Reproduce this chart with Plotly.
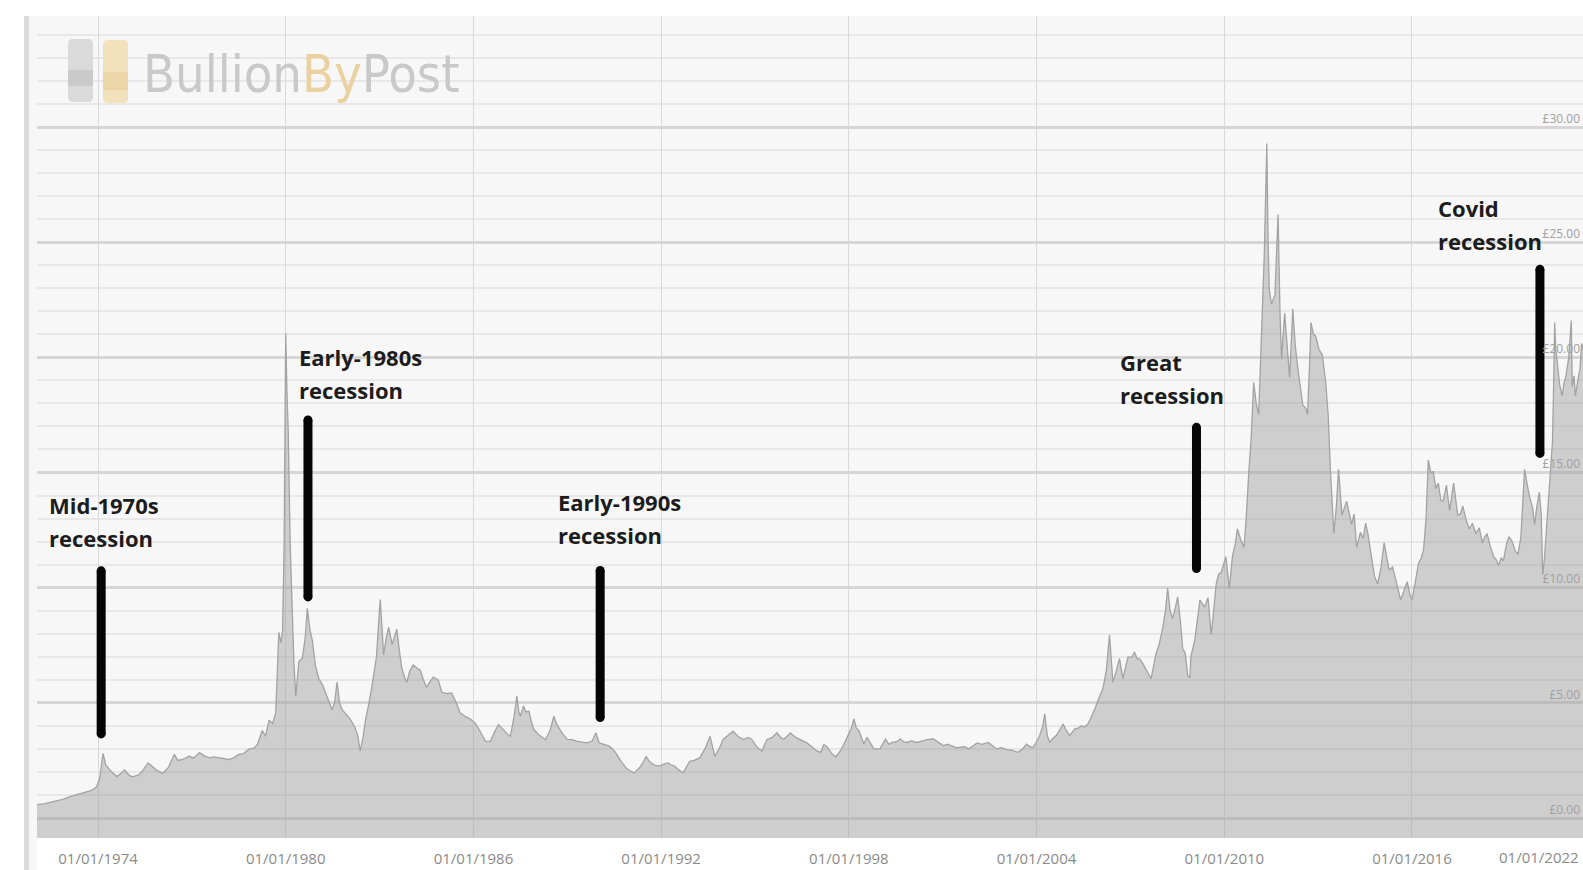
import datetime as dt
import plotly.graph_objects as go

# Silver price per troy ounce in GBP, sampled at fractional years
years = [
    1972.04, 1972.3, 1972.6, 1972.9, 1973.15, 1973.4, 1973.6, 1973.8, 1973.95, 1974.05,
    1974.16, 1974.25, 1974.4, 1974.6, 1974.75, 1974.85, 1975.0, 1975.1, 1975.3, 1975.45,
    1975.6, 1975.75, 1975.86, 1976.07, 1976.25, 1976.44, 1976.55, 1976.7, 1976.92, 1977.05,
    1977.24, 1977.4, 1977.56, 1977.7, 1977.87, 1978.0, 1978.19, 1978.35, 1978.5, 1978.65,
    1978.83, 1979.0, 1979.1, 1979.25, 1979.35, 1979.47, 1979.58, 1979.68, 1979.73, 1979.78,
    1979.85, 1979.9, 1979.95, 1980.0, 1980.04, 1980.08, 1980.14, 1980.2, 1980.26, 1980.32,
    1980.38, 1980.42, 1980.53, 1980.62, 1980.69, 1980.77, 1980.85, 1980.95, 1981.06, 1981.17,
    1981.27, 1981.38, 1981.48, 1981.56, 1981.64, 1981.72, 1981.8, 1981.9, 1982.0, 1982.1,
    1982.2, 1982.3, 1982.38, 1982.47, 1982.55, 1982.66, 1982.76, 1982.9, 1983.02, 1983.08,
    1983.13, 1983.21, 1983.29, 1983.4, 1983.48, 1983.55, 1983.63, 1983.71, 1983.8, 1983.87,
    1983.97, 1984.08, 1984.2, 1984.3, 1984.4, 1984.5, 1984.6, 1984.72, 1984.87, 1984.99,
    1985.15, 1985.3, 1985.45, 1985.57, 1985.75, 1985.9, 1986.05, 1986.2, 1986.38, 1986.54,
    1986.68, 1986.8, 1986.95, 1987.08, 1987.18, 1987.3, 1987.39, 1987.45, 1987.5, 1987.6,
    1987.68, 1987.77, 1987.85, 1987.93, 1988.1, 1988.3, 1988.45, 1988.57, 1988.65, 1988.73,
    1988.85, 1989.0, 1989.15, 1989.32, 1989.5, 1989.64, 1989.8, 1989.91, 1990.02, 1990.18,
    1990.34, 1990.45, 1990.55, 1990.7, 1990.88, 1991.0, 1991.14, 1991.3, 1991.42, 1991.52,
    1991.6, 1991.68, 1991.8, 1991.95, 1992.1, 1992.22, 1992.32, 1992.43, 1992.55, 1992.7,
    1992.8, 1992.91, 1993.05, 1993.23, 1993.4, 1993.56, 1993.64, 1993.72, 1993.85, 1993.98,
    1994.15, 1994.3, 1994.45, 1994.63, 1994.78, 1994.9, 1995.05, 1995.22, 1995.38, 1995.55,
    1995.7, 1995.82, 1995.92, 1996.05, 1996.13, 1996.3, 1996.45, 1996.66, 1996.85, 1996.99,
    1997.1, 1997.2, 1997.3, 1997.45, 1997.58, 1997.72, 1997.84, 1997.95, 1998.08, 1998.16,
    1998.24, 1998.32, 1998.48, 1998.58, 1998.7, 1998.8, 1999.0, 1999.17, 1999.28, 1999.38,
    1999.5, 1999.65, 1999.76, 1999.86, 2000.0, 2000.18, 2000.35, 2000.5, 2000.7, 2000.85,
    2001.03, 2001.15, 2001.3, 2001.45, 2001.55, 2001.7, 2001.82, 2001.95, 2002.09, 2002.25,
    2002.46, 2002.6, 2002.72, 2002.88, 2003.04, 2003.2, 2003.41, 2003.55, 2003.68, 2003.78,
    2003.89, 2004.0, 2004.1, 2004.2, 2004.26, 2004.34, 2004.42, 2004.52, 2004.63, 2004.75,
    2004.85, 2004.95, 2005.06, 2005.15, 2005.22, 2005.33, 2005.43, 2005.53, 2005.64, 2005.72,
    2005.8, 2005.88, 2005.96, 2006.05, 2006.12, 2006.2, 2006.23, 2006.33, 2006.38, 2006.44,
    2006.55, 2006.65, 2006.76, 2006.85, 2006.92, 2007.05, 2007.13, 2007.22, 2007.29, 2007.4,
    2007.5, 2007.6, 2007.66, 2007.75, 2007.82, 2007.93, 2008.03, 2008.12, 2008.19, 2008.27,
    2008.35, 2008.43, 2008.51, 2008.6, 2008.67, 2008.75, 2008.83, 2008.9, 2008.93, 2009.06,
    2009.15, 2009.22, 2009.3, 2009.37, 2009.48, 2009.58, 2009.66, 2009.74, 2009.82, 2009.9,
    2010.05, 2010.16, 2010.26, 2010.35, 2010.42, 2010.52, 2010.63, 2010.7, 2010.78, 2010.86,
    2010.94, 2011.02, 2011.1, 2011.2, 2011.28, 2011.33, 2011.36, 2011.4, 2011.44, 2011.51,
    2011.62, 2011.67, 2011.72, 2011.78, 2011.83, 2011.93, 2012.0, 2012.09, 2012.19, 2012.27,
    2012.35, 2012.43, 2012.51, 2012.6, 2012.66, 2012.72, 2012.77, 2012.85, 2012.92, 2013.03,
    2013.13, 2013.24, 2013.32, 2013.39, 2013.5, 2013.58, 2013.65, 2013.76, 2013.91, 2014.07,
    2014.15, 2014.23, 2014.35, 2014.44, 2014.52, 2014.59, 2014.7, 2014.8, 2014.9, 2015.0,
    2015.11, 2015.2, 2015.27, 2015.38, 2015.48, 2015.56, 2015.64, 2015.75, 2015.85, 2015.93,
    2016.0, 2016.1, 2016.21, 2016.3, 2016.37, 2016.45, 2016.52, 2016.6, 2016.68, 2016.76,
    2016.84, 2016.92, 2016.99, 2017.1, 2017.2, 2017.33, 2017.4, 2017.46, 2017.55, 2017.62,
    2017.72, 2017.83, 2017.93, 2018.04, 2018.15, 2018.25, 2018.32, 2018.4, 2018.5, 2018.61,
    2018.7, 2018.77, 2018.85, 2018.92, 2019.03, 2019.1, 2019.19, 2019.3, 2019.39, 2019.48,
    2019.55, 2019.6, 2019.68, 2019.76, 2019.85, 2019.92, 2020.0, 2020.07, 2020.13, 2020.18,
    2020.23, 2020.28, 2020.39, 2020.44, 2020.49, 2020.53, 2020.56, 2020.6, 2020.65, 2020.72,
    2020.8, 2020.86, 2020.91, 2020.97, 2021.01, 2021.09, 2021.12, 2021.18, 2021.22, 2021.3,
    2021.37, 2021.42, 2021.5,
]
price_gbp = [
    0.58, 0.62, 0.72, 0.82, 0.95, 1.05, 1.12, 1.2, 1.35, 1.7,
    2.8, 2.3, 2.05, 1.8, 1.95, 2.09, 1.85, 1.79, 1.87, 2.1,
    2.39, 2.2, 2.09, 1.94, 2.2, 2.76, 2.5, 2.54, 2.69, 2.6,
    2.84, 2.7, 2.61, 2.65, 2.61, 2.58, 2.54, 2.62, 2.76, 2.8,
    2.99, 3.05, 3.21, 3.8, 3.55, 4.25, 4.1, 4.55, 6.5, 8.06,
    7.6, 8.13, 12.0, 21.04, 18.5, 16.8, 12.0, 9.03, 6.8, 5.3,
    6.3, 6.8, 6.94, 7.8, 9.1, 8.2, 7.7, 6.6, 6.04, 5.8,
    5.45, 5.1, 4.7, 5.0, 5.9, 5.0, 4.7, 4.55, 4.4, 4.2,
    3.96, 3.6, 2.9, 3.5, 4.25, 5.0, 5.75, 7.0, 9.48, 8.2,
    7.09, 7.8, 8.28, 7.54, 7.9, 8.2, 7.3, 6.5, 6.1, 5.9,
    6.4, 6.64, 6.5, 6.42, 6.0, 5.67, 5.9, 6.12, 6.0, 5.45,
    5.4, 5.43, 5.0, 4.57, 4.4, 4.3, 4.13, 3.8, 3.33, 3.33,
    3.75, 4.06, 3.85, 3.65, 3.55, 4.4, 5.29, 4.6, 4.42, 4.86,
    4.6, 4.64, 4.2, 3.84, 3.6, 3.41, 3.8, 4.42, 4.1, 3.91,
    3.65, 3.41, 3.4, 3.33, 3.3, 3.26, 3.35, 3.7, 3.26, 3.2,
    3.12, 3.0, 2.83, 2.5, 2.17, 2.05, 1.96, 2.17, 2.4, 2.68,
    2.5, 2.39, 2.3, 2.25, 2.35, 2.39, 2.3, 2.25, 2.1, 1.96,
    2.2, 2.46, 2.5, 2.61, 3.0, 3.55, 3.1, 2.68, 3.0, 3.41,
    3.6, 3.77, 3.55, 3.41, 3.5, 3.41, 3.1, 2.9, 3.41, 3.5,
    3.7, 3.5, 3.41, 3.6, 3.7, 3.5, 3.4, 3.26, 3.05, 2.9,
    2.85, 3.19, 3.1, 2.8, 2.65, 2.9, 3.2, 3.5, 3.9, 4.3,
    3.9, 3.79, 3.21, 3.5, 3.2, 3.0, 3.0, 3.43, 3.2, 3.28,
    3.3, 3.43, 3.3, 3.28, 3.35, 3.28, 3.35, 3.4, 3.43, 3.3,
    3.14, 3.2, 3.14, 3.05, 3.07, 3.1, 3.0, 3.1, 3.26, 3.2,
    3.28, 3.15, 3.0, 3.05, 2.97, 2.95, 2.85, 3.0, 3.21, 3.1,
    3.07, 3.3, 3.58, 4.0, 4.52, 3.6, 3.28, 3.45, 3.58, 3.85,
    4.08, 3.8, 3.58, 3.75, 3.87, 3.9, 4.01, 3.95, 4.08, 4.3,
    4.52, 4.8, 5.1, 5.4, 5.61, 6.2, 6.41, 7.94, 6.8, 5.9,
    6.4, 6.92, 6.05, 6.6, 6.99, 7.0, 7.21, 6.9, 6.92, 6.7,
    6.48, 6.2, 6.05, 6.6, 7.14, 7.6, 8.23, 9.0, 9.97, 9.0,
    8.66, 9.1, 9.6, 8.5, 7.35, 7.17, 6.19, 6.08, 7.0, 7.77,
    8.6, 9.46, 9.3, 9.16, 9.56, 7.97, 9.0, 10.16, 10.6, 10.66,
    11.35, 9.96, 11.35, 11.9, 12.55, 12.1, 11.75, 13.0, 14.94, 16.5,
    18.92, 18.0, 17.53, 21.31, 24.5, 27.5, 29.28, 25.0, 22.9, 22.31,
    22.71, 24.5, 26.2, 22.0, 19.92, 21.91, 20.5, 19.12, 22.11, 20.5,
    19.52, 18.6, 17.93, 17.8, 17.53, 19.5, 21.51, 21.0, 20.92, 20.32,
    20.12, 18.92, 17.5, 15.14, 12.35, 13.5, 15.14, 13.15, 13.75, 12.75,
    13.2, 11.75, 12.4, 12.15, 12.8, 12.35, 11.3, 10.5, 10.16, 10.8,
    11.95, 11.2, 10.76, 10.9, 10.36, 9.9, 9.46, 9.9, 10.26, 9.7,
    9.46, 10.2, 11.06, 11.3, 11.65, 13.0, 15.54, 15.0, 15.04, 14.3,
    14.54, 13.8, 13.75, 14.44, 13.35, 14.54, 13.8, 13.15, 13.2, 13.55,
    13.0, 12.55, 12.8, 12.35, 12.6, 11.95, 12.2, 12.35, 11.8, 11.35,
    11.2, 10.96, 11.3, 11.16, 11.95, 12.2, 12.05, 11.6, 11.45, 12.2,
    13.9, 15.14, 14.5, 13.94, 13.5, 12.75, 13.6, 14.14, 13.2, 10.56,
    11.2, 12.15, 14.34, 15.2, 16.33, 19.0, 21.51, 20.3, 19.52, 18.8,
    18.33, 18.9, 19.12, 19.6, 20.0, 21.6, 18.73, 19.2, 18.33, 19.0,
    19.52, 20.6, 20.2,
]

# Recession callouts: label lines, label anchor, and vertical marker bar
recession_labels = ["Mid-1970s", "Early-1980s", "Early-1990s", "Great", "Covid"]
label_year = [1972.36, 1980.37, 1988.65, 2006.59, 2016.76]
label_y = [13.59, 20.0, 13.73, 19.78, 26.49]
bar_year = [1974.10, 1980.71, 1990.05, 2009.11, 2020.09]
bar_top = [10.73, 17.28, 10.75, 16.96, 23.82]
bar_bottom = [3.65, 9.60, 4.36, 10.83, 15.83]

x_range = [1972.05, 2021.465]
y_range = [-0.868, 34.82]
x_tick_start = "1974-01-01"
last_tick_label = "01/01/2022"


def to_date(y):
    yr = int(y)
    start = dt.datetime(yr, 1, 1)
    end = dt.datetime(yr + 1, 1, 1)
    return start + (end - start) * (y - yr)


dates = [to_date(y) for y in years]

# pixel geometry of the plotting area
W, H = 1583, 870
ML, MR, MT, MB = 37, 0, 16, 32
PW, PH = W - ML - MR, H - MT - MB


def px(xp):
    return (xp - ML) / PW


def py(yp):
    return (H - MB - yp) / PH


def rounded_rect(x0, y0, x1, y1, r):
    pts = [
        ("M", x0 + r, y0), ("L", x1 - r, y0), ("Q", x1, y0, x1, y0 + r),
        ("L", x1, y1 - r), ("Q", x1, y1, x1 - r, y1), ("L", x0 + r, y1),
        ("Q", x0, y1, x0, y1 - r), ("L", x0, y0 + r), ("Q", x0, y0, x0 + r, y0),
    ]
    parts = []
    for p in pts:
        cmd = p[0]
        coords = p[1:]
        seg = []
        for i in range(0, len(coords), 2):
            seg.append(f"{px(coords[i]):.5f},{py(coords[i + 1]):.5f}")
        parts.append(cmd + " " + " ".join(seg))
    return " ".join(parts) + " Z"


fig = go.Figure()

# baseline at the bottom of the plot so the area fills to the frame
fig.add_trace(go.Scatter(
    x=[to_date(x_range[0]), to_date(x_range[1])], y=[y_range[0], y_range[0]],
    mode="lines", line=dict(width=0, color="rgba(0,0,0,0)"),
    hoverinfo="skip", showlegend=False,
))
fig.add_trace(go.Scatter(
    x=dates, y=price_gbp, mode="lines", name="Silver (GBP/oz)",
    line=dict(color="#a3a3a3", width=1.3),
    fill="tonexty", fillcolor="rgba(158,158,158,0.46)",
    showlegend=False,
))

# vertical recession markers with rounded ends
bx, by = [], []
for yr, t, b in zip(bar_year, bar_top, bar_bottom):
    bx += [to_date(yr), to_date(yr), None]
    by += [t, b, None]
fig.add_trace(go.Scatter(
    x=bx, y=by, mode="lines+markers",
    line=dict(color="#050505", width=9),
    marker=dict(color="#050505", size=9),
    hoverinfo="skip", showlegend=False,
))

annotations = []
line_gap = 33 / 23.05
for name, yr, yv in zip(recession_labels, label_year, label_y):
    for i, txt in enumerate([name, "recession"]):
        annotations.append(dict(
            x=to_date(yr), y=yv - i * line_gap, xref="x", yref="y",
            text=txt, showarrow=False, xanchor="left", yanchor="middle",
            font=dict(family="Open Sans", size=22, color="#1c1c1c", weight="bold"),
        ))

# logo wordmark
annotations.append(dict(
    x=px(141), y=py(74), xref="paper", yref="paper",
    text="Bullion<span style='color:#e9d1a0'>By</span>Post",
    showarrow=False, xanchor="left", yanchor="middle",
    font=dict(family="DejaVu Sans Condensed, sans-serif", size=52, color="#c9c9c9"),
))

# date label at the right edge of the axis
annotations.append(dict(
    x=px(1581), y=py(857), xref="paper", yref="paper",
    text=last_tick_label, showarrow=False, xanchor="right", yanchor="middle",
    font=dict(family="Open Sans", size=15, color="#8a8a8a"),
))

shapes = [
    # frame strip on the left and light panel behind the axis area
    dict(type="rect", xref="paper", yref="paper", x0=px(29), x1=px(37), y0=py(16), y1=py(870),
         fillcolor="#f7f7f7", line=dict(width=0), layer="below"),
    dict(type="rect", xref="paper", yref="paper", x0=px(24), x1=px(29), y0=py(16), y1=py(870),
         fillcolor="#dcdcdc", line=dict(width=0), layer="below"),
    # logo bars
    dict(type="path", xref="paper", yref="paper", path=rounded_rect(68, 39, 93, 102, 5),
         fillcolor="#dadada", line=dict(width=0)),
    dict(type="rect", xref="paper", yref="paper", x0=px(68), x1=px(93), y0=py(70), y1=py(86),
         fillcolor="#cacaca", line=dict(width=0)),
    dict(type="path", xref="paper", yref="paper", path=rounded_rect(103, 40, 128, 103, 5),
         fillcolor="#f3e1bb", line=dict(width=0)),
    dict(type="rect", xref="paper", yref="paper", x0=px(103), x1=px(128), y0=py(72), y1=py(90),
         fillcolor="#ecd5a6", line=dict(width=0)),
]

fig.update_layout(
    width=W, height=H, autosize=False,
    margin=dict(l=ML, r=MR, t=MT, b=MB, pad=0),
    paper_bgcolor="#ffffff", plot_bgcolor="#f7f7f7",
    showlegend=False, hovermode=False,
    annotations=annotations, shapes=shapes,
    xaxis=dict(
        type="date", range=[to_date(x_range[0]), to_date(x_range[1])],
        tick0=x_tick_start, dtick="M72", tickformat="%d/%m/%Y",
        showgrid=True, gridcolor="#d9d9d9", gridwidth=1,
        zeroline=False, showline=False, ticks="",
        ticklabelstandoff=10,
        tickfont=dict(family="Open Sans", size=15, color="#8a8a8a"),
    ),
    yaxis=dict(
        range=y_range, side="right", dtick=5, tick0=0,
        tickformat=".2f", tickprefix="£",
        ticklabelposition="inside top",
        showgrid=True, gridcolor="#d6d6d6", gridwidth=2.5,
        minor=dict(dtick=1, tick0=0, showgrid=True, gridcolor="#e8e8e8", gridwidth=1.5),
        zeroline=False, showline=False, ticks="",
        tickfont=dict(family="Open Sans", size=12, color="#a0a0a0"),
    ),
)

fig.write_html("out.html", post_script="document.body.style.margin='0';document.body.style.overflow='hidden';")
